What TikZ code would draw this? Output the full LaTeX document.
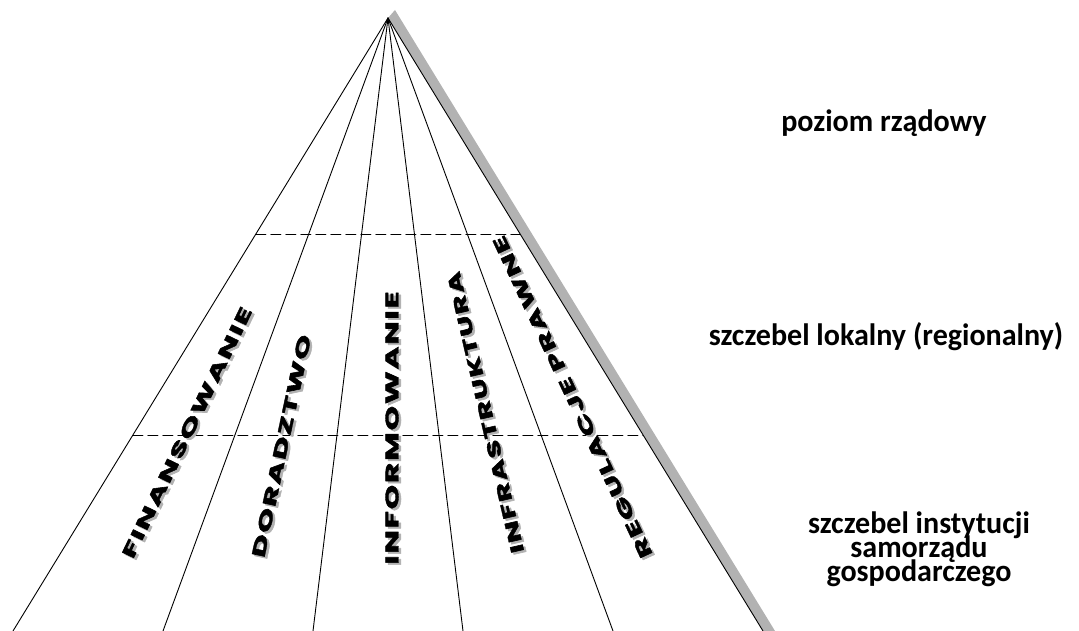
\documentclass[tikz,border=0pt]{standalone}
\usepackage{fontspec}
\usetikzlibrary{calc}

\newfontfamily\levelfont{Carlito}[FakeStretch=0.97]
\newfontfamily\beamfont{Poppins}[LetterSpace=6, FakeBold=2]
\definecolor{shadowgray}{RGB}{178,178,178}
\newcommand\beamword[2]{\resizebox{#1}{13pt}{\beamfont\bfseries #2}}
\newcommand\levelstyle{\levelfont\bfseries\fontsize{31}{22.5}\selectfont
  \setlength{\lineskiplimit}{-50pt}\setlength{\lineskip}{0pt}}

\begin{document}
\begin{tikzpicture}[
  x=1pt, y=1pt, line cap=round, line join=round,
  edge/.style={line width=0.9pt},
  border/.style={line width=0.8pt, dash pattern=on 10pt off 5pt},
  beam/.style={inner sep=0pt},
  lvl/.style={font=\levelstyle, align=center, anchor=base}
]
  \useasboundingbox (0,0) rectangle (1079,631);

  % ── Pyramid ───────────────────────────────────────────────────────────────

  \coordinate (apex) at (388,613);
  \foreach \i in {0,...,5}
    \coordinate (b\i) at (13+150*\i, 0);

  % Shadow of the right edge
  \fill[shadowgray] (apex) -- ++(7,8) -- ($(b5)+(12,0)$) -- (b5) -- cycle;

  % Edges
  \foreach \i in {0,...,5}
    \draw[edge] (apex) -- (b\i);

  % Level borders
  \draw[border] ($(apex)!0.3524!(b0)$) -- ($(apex)!0.3524!(b5)$);
  \draw[border] ($(apex)!0.6803!(b0)$) -- ($(apex)!0.6803!(b5)$);

  % ── Instruments ───────────────────────────────────────────────────────────

  \foreach \cx/\cy/\ang/\len/\word/\nm in {
      187/198.5/64.3/276/FINANSOWANIE/fin,
      281.5/185/78/227/DORADZTWO/dor,
      392/203/90/273/INFORMOWANIE/inf,
      485.5/218.5/103/288/INFRASTRUKTURA/infra,
      572.5/234/115/353/{REGULACJE PRAWNE}/reg}
  {
    \node[beam, text=shadowgray, rotate=\ang] (\nm-sh) at (\cx+2.5,\cy-2)
      {\beamword{\len pt}{\word}};
    \node[beam, rotate=\ang] (\nm) at (\cx,\cy) {\beamword{\len pt}{\word}};
  }

  % ── Levels ────────────────────────────────────────────────────────────────

  \node[lvl] (gov)  at (884,499) {poziom rządowy};
  \node[lvl] (loc)  at (886,285) {szczebel lokalny (regionalny)};
  \node[lvl] (inst) at (919,49)
    {szczebel instytucji\\[1.5pt]samorządu\\[1.5pt]gospodarczego};

\end{tikzpicture}
\end{document}
